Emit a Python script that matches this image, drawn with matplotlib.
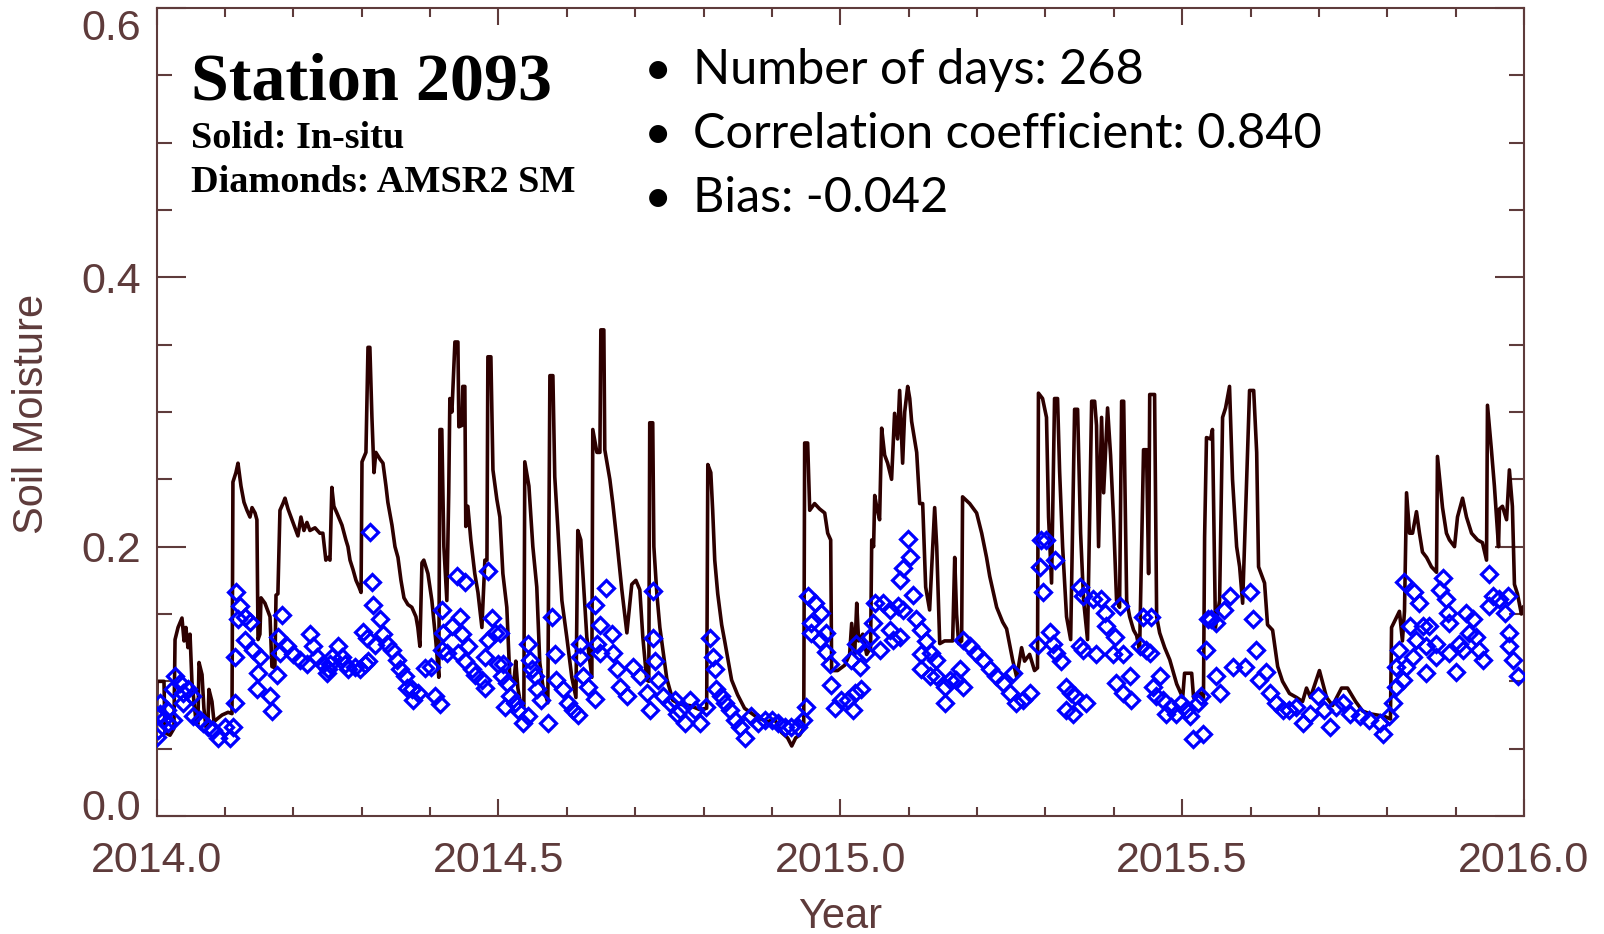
import numpy as np
import matplotlib.pyplot as plt
from matplotlib.ticker import MultipleLocator, FormatStrFormatter
from matplotlib.transforms import ScaledTranslation

# in-situ soil moisture, day since 2014-01-01 and value
insitu_day = [
    0, 0.3, 4.0, 4.5, 7.2, 9.3, 9.9, 11.5, 13.6, 14.7, 15.7, 16.8, 17.9, 18.9, 20.0, 21.1, 22.1, 22.7,
    24.3, 25.3, 26.4, 27.5, 28.0, 29.6, 30.7, 32.3, 35.0, 38.2, 40.3, 40.8, 42.4, 43.5, 45.1, 46.7,
    48.3, 49.9, 51.0, 52.6, 53.6, 54.2, 55.2, 55.8, 57.9, 59.5, 60.6, 61.6, 63.2, 63.8, 64.8, 65.9,
    67.5, 68.6, 70.2, 71.8, 73.9, 75.5, 77.1, 78.7, 80.3, 81.9, 84.6, 87.2, 88.8, 90.4, 91.5, 92.6,
    93.6, 94.7, 96.3, 99.0, 101.1, 102.2, 103.3, 104.9, 106.5, 108.1, 109.2, 109.7, 111.8, 112.9,
    113.9, 115.0, 116.1, 117.1, 119.3, 120.9, 122.5, 123.5, 125.7, 127.3, 128.9, 130.5, 132.1, 134.2,
    136.3, 138.5, 139.5, 140.6, 141.7, 142.7, 144.9, 147.0, 149.1, 150.7, 151.3, 152.3, 153.4, 155.0,
    156.0, 156.6, 157.7, 159.3, 160.9, 161.4, 163.0, 163.5, 164.6, 165.1, 166.2, 167.8, 169.9, 171.6,
    173.7, 175.3, 176.4, 176.9, 178.5, 179.6, 181.7, 183.3, 184.9, 187.0, 188.6, 190.8, 191.8, 192.9,
    194.5, 196.1,
    196.6, 198.8, 200.9, 203.0, 204.6, 206.2, 208.9, 210.0, 211.6, 212.6, 214.2, 216.4, 219.0, 221.7,
    223.9, 224.9, 226.5, 229.7, 232.4, 232.9, 235.1, 236.7, 237.2, 238.8, 239.3, 242.0, 243.6, 245.7,
    248.4, 251.1, 253.7, 255.9, 258.0, 259.6, 261.7, 262.8, 263.3, 264.9, 265.5, 267.1, 268.7, 272.4,
    275.6, 279.3,
    284.7, 290.0, 293.7, 294.3, 295.9, 296.9, 298.0, 299.6, 301.7, 303.3, 307.0, 310.2, 313.9, 320.9,
    326.2, 329.9, 333.7, 336.9, 339.1, 341.2, 343.3, 345.5, 346.0, 347.6, 348.7, 351.3, 354.0, 356.7,
    358.3, 359.9, 360.4, 363.6, 367.4, 370.0, 371.1,
    372.7, 373.8, 374.8, 377.0, 379.1, 381.2, 381.8, 382.8, 383.4, 384.4, 386.0, 387.1, 388.7, 390.3,
    392.4, 394.0, 395.6, 396.7, 398.3, 399.4, 401.0, 402.1, 403.1, 405.8, 407.4, 409.0, 410.6, 412.7,
    415.4, 416.5, 418.1, 420.7, 425.0, 426.1, 427.1, 428.2, 429.8, 430.3, 434.1, 437.8, 440.5, 443.1,
    444.8, 448.5, 451.7, 453.8, 457.0, 459.2, 461.8, 463.4, 466.1, 468.7, 470.3,
    470.8, 473.0, 475.1, 476.2, 477.8, 479.4, 481.0, 482.1, 483.7, 485.8, 488.0, 490.1, 491.7, 493.3,
    494.9, 497.0, 499.2, 500.8, 501.8, 502.9, 504.5, 505.6, 507.7, 509.3, 510.9, 512.5, 514.1, 515.2,
    516.3, 517.9, 519.5, 521.6, 523.2, 524.8, 525.9, 526.9, 528.5, 529.6, 530.2, 532.8, 533.9,
    535.5, 538.2, 540.9, 544.6, 547.8, 548.8, 552.6, 553.6, 556.8, 558.9, 559.5, 560.5, 562.7, 563.7,
    565.3, 567.5, 569.1, 570.7, 572.8, 574.4, 576.6, 578.2, 579.8, 583.5, 585.7, 587.3, 588.3, 591.5,
    593.1, 595.8, 598.5, 601.1, 604.8, 608.6, 611.8, 613.9, 616.0, 620.8, 624.6, 627.8, 632.6, 635.8,
    640.1, 643.8, 647.5, 655.5, 658.7, 659.3, 663.5, 665.1, 666.2, 667.3, 668.9, 670.5, 672.6, 674.2,
    675.8, 678.0, 680.6, 683.3, 683.8, 686.5, 688.6, 690.2, 692.9, 694.5, 697.2, 699.3, 702.0, 705.2,
    707.8, 710.0, 710.5, 712.6, 714.2, 716.4, 716.9, 718.5, 720.7, 722.2, 723.8, 724.9, 726.5, 728.6,
    729.7,
]
insitu_sm = [
    0.065, 0.10, 0.10, 0.062, 0.06, 0.065, 0.131, 0.14, 0.147, 0.13, 0.14, 0.125, 0.135, 0.10, 0.085, 0.07, 0.068, 0.114,
    0.105, 0.08, 0.066, 0.07, 0.094, 0.085, 0.07, 0.072, 0.075, 0.077, 0.076, 0.248, 0.255, 0.262, 0.245, 0.233,
    0.227, 0.222, 0.229, 0.225, 0.22, 0.131, 0.135, 0.162, 0.158, 0.152, 0.148, 0.111, 0.11, 0.164, 0.165, 0.227,
    0.232, 0.236, 0.228, 0.222, 0.214, 0.208, 0.222, 0.212, 0.218, 0.212, 0.214, 0.21, 0.21, 0.19, 0.192, 0.19,
    0.244, 0.23, 0.225, 0.216, 0.205, 0.2, 0.19, 0.183, 0.175, 0.17, 0.166, 0.263, 0.27, 0.348,
    0.348, 0.296, 0.255, 0.27, 0.265, 0.262, 0.245, 0.233, 0.216, 0.2, 0.192, 0.175, 0.162, 0.157,
    0.155, 0.148, 0.14, 0.126, 0.188, 0.19, 0.18, 0.16, 0.13, 0.103, 0.287, 0.287, 0.2, 0.16,
    0.24, 0.31, 0.3, 0.352, 0.352, 0.289, 0.29, 0.319, 0.319, 0.215, 0.23, 0.205, 0.18, 0.166,
    0.14, 0.19, 0.19, 0.341, 0.341, 0.257, 0.235, 0.222, 0.18, 0.155, 0.103, 0.1, 0.115, 0.095,
    0.082, 0.081,
    0.263, 0.245, 0.2, 0.17, 0.114, 0.097, 0.084, 0.327, 0.327, 0.252, 0.215, 0.16, 0.133, 0.103,
    0.088, 0.212, 0.205, 0.133, 0.103, 0.287, 0.27, 0.27, 0.361, 0.361, 0.272, 0.25, 0.232, 0.205,
    0.168, 0.136, 0.172, 0.175, 0.168, 0.133, 0.101, 0.1, 0.292, 0.292, 0.2, 0.165, 0.14, 0.102,
    0.086, 0.083,
    0.082, 0.079, 0.08, 0.261, 0.255, 0.227, 0.19, 0.165, 0.142, 0.13, 0.101, 0.09, 0.08, 0.073,
    0.07, 0.072, 0.062, 0.058, 0.052, 0.058, 0.06, 0.065, 0.277, 0.277, 0.227, 0.232, 0.228, 0.225,
    0.21, 0.205, 0.108, 0.108, 0.112, 0.12, 0.143,
    0.12, 0.158, 0.13, 0.135, 0.12, 0.125, 0.205, 0.2, 0.238, 0.23, 0.22, 0.288, 0.268, 0.262,
    0.25, 0.299, 0.28, 0.316, 0.262, 0.3, 0.319, 0.31, 0.293, 0.27, 0.232, 0.232, 0.17, 0.153,
    0.229, 0.2, 0.128, 0.13, 0.13, 0.192, 0.15, 0.128, 0.13, 0.237, 0.232, 0.225, 0.21, 0.192,
    0.178, 0.155, 0.144, 0.139, 0.116, 0.103, 0.125, 0.115, 0.12, 0.108, 0.11,
    0.314, 0.31, 0.296, 0.222, 0.173, 0.31, 0.31, 0.256, 0.2, 0.148, 0.131, 0.302, 0.302, 0.21,
    0.16, 0.131, 0.308, 0.308, 0.29, 0.2, 0.296, 0.24, 0.303, 0.268, 0.22, 0.16, 0.155, 0.308,
    0.308, 0.16, 0.148, 0.138, 0.134, 0.123, 0.2, 0.272, 0.272, 0.18, 0.313, 0.313, 0.148,
    0.136, 0.125, 0.116, 0.098, 0.088, 0.106, 0.106, 0.088, 0.092, 0.088, 0.207, 0.281, 0.28, 0.287,
    0.14, 0.16, 0.296, 0.303, 0.319, 0.25, 0.2, 0.185, 0.158, 0.316, 0.316, 0.27, 0.185, 0.173,
    0.142, 0.138, 0.111, 0.1, 0.091, 0.088, 0.085, 0.095, 0.088, 0.108, 0.088, 0.082, 0.095, 0.095,
    0.085, 0.078, 0.076, 0.074, 0.072, 0.14, 0.152, 0.13, 0.152, 0.24, 0.21, 0.21, 0.226, 0.21,
    0.196, 0.192, 0.185, 0.181, 0.267, 0.229, 0.21, 0.205, 0.2, 0.222, 0.236, 0.222, 0.21, 0.205,
    0.203, 0.19, 0.305, 0.272, 0.245, 0.2, 0.228, 0.23, 0.22, 0.257, 0.23, 0.172, 0.165, 0.15,
    0.155,
]

# AMSR2 retrievals, day since 2014-01-01 and value
amsr2_day = [
    1.9, 1.9, 1.0, 0.1, 3.6, 6.3, 9.0, 5.4, 9.9, 12.5, 9.0, 14.3, 14.3, 17.0, 18.8, 19.7, 23.2, 25.0,
    27.6, 30.3, 33.0, 36.6, 39.2, 41.0, 41.9, 41.9, 42.4, 44.6, 47.2, 43.7, 49.9, 47.2, 51.7, 55.2,
    54.3, 53.5, 60.6, 61.5, 64.1, 65.0, 66.8, 65.9, 69.5, 73.0, 76.6, 80.1, 81.9, 83.7, 85.5, 89.0,
    90.8, 92.6,
    91.7, 93.5, 97.0, 98.8, 100.6, 102.3, 105.9, 108.6, 111.3, 113.0, 113.9, 114.8, 115.7, 119.3,
    110.4, 112.2, 116.6, 121.0, 122.8, 125.5, 128.2, 129.9, 132.6, 133.5, 136.2, 137.0, 139.7, 143.3,
    146.8, 148.6, 151.3, 152.2, 152.2, 153.0, 154.9, 157.5, 160.2, 162.0, 164.6, 162.9, 166.4, 161.1,
    164.6, 168.2, 169.9, 173.5, 175.3, 177.0, 178.9, 180.6, 177.0, 175.3, 182.4, 184.2, 186.0,
    183.3, 185.1, 186.9, 188.6, 191.3, 193.1, 195.7, 198.4, 198.4, 199.3, 200.2, 202.0, 202.9, 205.5,
    209.1, 210.9, 212.6, 213.5, 217.1, 219.7, 222.4, 225.1, 226.0, 226.0, 227.7, 230.4, 234.0, 234.0,
    236.7, 240.2, 242.9, 236.7, 234.9, 243.8, 245.6, 247.3, 250.9, 254.4, 258.0, 261.6, 263.3, 265.1,
    265.1, 266.0, 267.8, 270.4, 274.0, 277.6,
    276.7, 279.3, 282.0, 284.7, 287.3, 290.0, 293.6, 295.4, 297.1, 298.0, 298.9, 301.6, 303.4, 306.0,
    308.7, 311.4, 314.0, 317.6, 321.1, 324.7, 328.3, 331.8, 335.4, 338.9, 342.5, 345.1, 346.9, 347.8,
    349.6, 351.4, 354.9, 349.6, 354.0, 357.6, 357.6, 359.4, 360.3, 362.0, 365.6, 369.2, 372.7, 371.0,
    371.8, 376.3, 375.4, 373.6, 378.9, 382.5, 383.4, 380.7, 386.1, 387.8, 391.4, 395.8, 398.5, 391.4,
    393.2, 396.7, 401.2, 402.1, 398.5, 396.7, 403.8, 405.6, 408.3, 411.0, 408.3, 413.6, 416.3, 408.3,
    412.7, 416.3, 420.7, 423.4, 427.0, 428.8, 430.5, 420.7, 430.5, 434.1, 437.7, 441.2, 444.8, 448.3,
    451.9, 455.4, 457.2, 459.0, 462.5, 466.1,
    470.5, 471.4, 472.3, 475.0, 473.2, 476.8, 479.4, 478.5, 480.3, 483.0, 485.7, 488.4, 490.1, 485.7,
    489.2, 492.8, 494.5, 492.8, 496.3, 494.5, 499.9, 501.7, 504.4, 506.1, 507.0, 510.6, 511.5, 514.1,
    515.9, 512.4, 515.9, 519.5, 520.4, 526.6, 524.8, 528.4, 530.2,
    531.0, 535.5, 531.9, 533.7, 537.2, 539.0, 541.7, 544.4, 547.1, 549.7, 551.5, 553.3, 558.6, 555.9,
    557.7, 561.2, 563.1, 565.7, 560.4, 565.7, 567.5, 570.1, 572.8, 574.6, 580.8, 583.5, 585.3, 587.1,
    592.4, 588.8, 594.2, 597.7, 601.3, 604.8, 608.4, 611.9, 615.5, 620.0, 623.5, 626.2, 629.8, 633.3,
    636.9, 642.2, 647.5, 652.9, 654.6, 658.2, 660.0, 661.8, 661.8, 663.5, 665.3, 667.1, 666.2, 671.5,
    674.2, 668.9, 672.4, 676.0, 679.5, 670.6, 677.8, 683.1, 686.6, 684.9, 688.4, 689.3, 690.2, 683.1,
    677.8, 690.2, 693.8, 695.5, 699.1, 702.6, 700.9, 697.3, 704.4, 706.2, 708.0, 711.5, 713.3, 716.9,
    711.5, 719.6, 721.3, 722.2, 722.2, 724.0, 726.7,
]
amsr2_sm = [
    0.084, 0.076, 0.064, 0.059, 0.071, 0.069, 0.071, 0.079, 0.104, 0.099, 0.094, 0.091, 0.084, 0.094, 0.089, 0.074, 0.071, 0.069,
    0.066, 0.064, 0.058, 0.066, 0.058, 0.066, 0.084, 0.118, 0.166, 0.156, 0.148, 0.146, 0.144, 0.131, 0.123, 0.118,
    0.106, 0.094, 0.089, 0.078, 0.105, 0.133, 0.149, 0.121, 0.126, 0.120, 0.116, 0.113, 0.135, 0.126, 0.118, 0.113,
    0.106, 0.113,
    0.109, 0.118, 0.126, 0.118, 0.113, 0.109, 0.111, 0.109, 0.113, 0.115, 0.211, 0.174, 0.157, 0.146,
    0.137, 0.132, 0.127, 0.135, 0.128, 0.123, 0.116, 0.109, 0.104, 0.095, 0.094, 0.086, 0.091, 0.110,
    0.111, 0.089, 0.083, 0.123, 0.153, 0.136, 0.121, 0.141, 0.178, 0.148, 0.174, 0.135, 0.126, 0.121,
    0.115, 0.109, 0.105, 0.101, 0.095, 0.182, 0.147, 0.136, 0.131, 0.118, 0.113, 0.104, 0.081,
    0.136, 0.113, 0.099, 0.089, 0.084, 0.079, 0.069, 0.074, 0.128, 0.116, 0.109, 0.104, 0.094, 0.086,
    0.069, 0.148, 0.120, 0.101, 0.094, 0.084, 0.079, 0.075, 0.128, 0.118, 0.104, 0.096, 0.087, 0.157,
    0.142, 0.169, 0.135, 0.121, 0.128, 0.121, 0.109, 0.096, 0.089, 0.111, 0.104, 0.091, 0.079, 0.167,
    0.132, 0.115, 0.101, 0.089, 0.084, 0.076,
    0.086, 0.079, 0.069, 0.086, 0.079, 0.069, 0.081, 0.132, 0.118, 0.109, 0.094, 0.089, 0.084, 0.079,
    0.071, 0.066, 0.058, 0.074, 0.069, 0.071, 0.071, 0.069, 0.066, 0.066, 0.066, 0.071, 0.081, 0.163,
    0.143, 0.158, 0.151, 0.136, 0.131, 0.136, 0.122, 0.113, 0.097, 0.080, 0.086, 0.086, 0.091, 0.116,
    0.079, 0.094, 0.111, 0.128, 0.121, 0.143, 0.158, 0.133, 0.123, 0.158, 0.153, 0.156, 0.153, 0.138,
    0.131, 0.133, 0.206, 0.192, 0.184, 0.175, 0.164, 0.146, 0.138, 0.130, 0.120, 0.121, 0.116, 0.109,
    0.104, 0.104, 0.096, 0.101, 0.101, 0.109, 0.096, 0.084, 0.131, 0.126, 0.121, 0.116, 0.109, 0.104,
    0.099, 0.091, 0.106, 0.084, 0.086, 0.091,
    0.127, 0.185, 0.205, 0.205, 0.166, 0.137, 0.190, 0.128, 0.121, 0.115, 0.096, 0.091, 0.089, 0.079,
    0.076, 0.170, 0.163, 0.126, 0.084, 0.123, 0.161, 0.120, 0.161, 0.151, 0.141, 0.120, 0.133, 0.156,
    0.120, 0.099, 0.091, 0.104, 0.086, 0.148, 0.126, 0.123, 0.121,
    0.148, 0.104, 0.096, 0.089, 0.086, 0.076, 0.081, 0.076, 0.084, 0.079, 0.074, 0.057, 0.061, 0.084,
    0.089, 0.146, 0.146, 0.143, 0.123, 0.104, 0.091, 0.153, 0.163, 0.111, 0.111, 0.166, 0.146, 0.123,
    0.107, 0.101, 0.091, 0.084, 0.079, 0.079, 0.081, 0.069, 0.076, 0.089, 0.079, 0.066, 0.081, 0.084,
    0.076, 0.074, 0.071, 0.069, 0.061, 0.074, 0.084, 0.096, 0.111, 0.123, 0.101, 0.111, 0.174, 0.166,
    0.158, 0.141, 0.131, 0.141, 0.141, 0.118, 0.126, 0.128, 0.177, 0.168, 0.161, 0.151, 0.143, 0.118,
    0.106, 0.121, 0.107, 0.128, 0.151, 0.146, 0.136, 0.123, 0.133, 0.123, 0.116, 0.180, 0.163, 0.161,
    0.156, 0.151, 0.163, 0.136, 0.126, 0.116, 0.104,
]

yticks = [0.0, 0.2, 0.4, 0.6]
stats_lines = ["Number of days: 268", "Correlation coefficient: 0.840", "Bias: -0.042"]

axcol = '#5e3b3b'
axfont = 'Liberation Sans'
W, H = 1604, 934

fig = plt.figure(figsize=(W / 100, H / 100), dpi=100)
ax = fig.add_axes([156.5 / W, 1 - 816 / H, (1524 - 156.5) / W, (816 - 8) / H])

t_insitu = 2014 + np.array(insitu_day) / 365.0
t_amsr2 = 2014 + np.array(amsr2_day) / 365.0

ax.plot(t_insitu, insitu_sm, color='#2d0000', lw=2.6, zorder=2)
ax.plot(t_amsr2, amsr2_sm, linestyle='none', marker='D', ms=8.5, mfc='none',
        mec='#0000ff', mew=2.3, zorder=3)

ax.set_xlim(2014.0, 2016.0)
ax.set_ylim(0.0, 0.6)
ax.xaxis.set_major_locator(MultipleLocator(0.5))
ax.xaxis.set_minor_locator(MultipleLocator(0.1))
ax.set_yticks(yticks)
ax.yaxis.set_minor_locator(MultipleLocator(0.05))
ax.xaxis.set_major_formatter(FormatStrFormatter('%.1f'))
ax.yaxis.set_major_formatter(FormatStrFormatter('%.1f'))

for s in ax.spines.values():
    s.set_color(axcol)
    s.set_linewidth(1.5)
ax.tick_params(axis='both', which='both', direction='in', color=axcol, width=1.5,
               labelcolor=axcol, labelsize=31, top=True, right=True)
ax.tick_params(axis='x', which='major', length=12, pad=18)
ax.tick_params(axis='x', which='minor', length=6.5)
ax.tick_params(axis='y', which='major', length=21, pad=11)
ax.tick_params(axis='y', which='minor', length=10.5)

# IDL keeps the end labels of the y axis inside the plot height
fig.canvas.draw()
shift = {0.0: 0.11, 0.6: -0.16}
for tick in ax.yaxis.get_major_ticks():
    for key, dy in shift.items():
        if abs(tick.get_loc() - key) < 1e-9:
            tick.label1.set_transform(tick.label1.get_transform()
                                      + ScaledTranslation(0, dy, fig.dpi_scale_trans))
for lab in ax.get_xticklabels() + ax.get_yticklabels():
    lab.set_family(axfont)

fig.text(840 / W, 1 - 928 / H, 'Year', ha='center', va='baseline', fontsize=30, color=axcol,
         family=axfont)
fig.text(32 / W, 1 - 414 / H, 'Soil Moisture', ha='center', va='center', rotation=90,
         fontsize=30, color=axcol, family=axfont)

serif = 'Liberation Serif'
fig.text(191 / W, 1 - 99 / H, 'Station 2093', ha='left', va='baseline', fontsize=49,
         fontweight='bold', family=serif)
fig.text(191 / W, 1 - 148 / H, 'Solid: In-situ', ha='left', va='baseline', fontsize=27.5,
         fontweight='bold', family=serif)
fig.text(191 / W, 1 - 192 / H, 'Diamonds: AMSR2 SM', ha='left', va='baseline', fontsize=27.5,
         fontweight='bold', family=serif)

for i, line in enumerate(stats_lines):
    yb = 84 + 64 * i
    fig.text(658 / W, 1 - yb / H, '\u2022', ha='center', va='baseline', fontsize=35, family='Lato')
    fig.text(693 / W, 1 - yb / H, line, ha='left', va='baseline', fontsize=35, family='Lato')

fig.savefig('out.png', dpi=100)
